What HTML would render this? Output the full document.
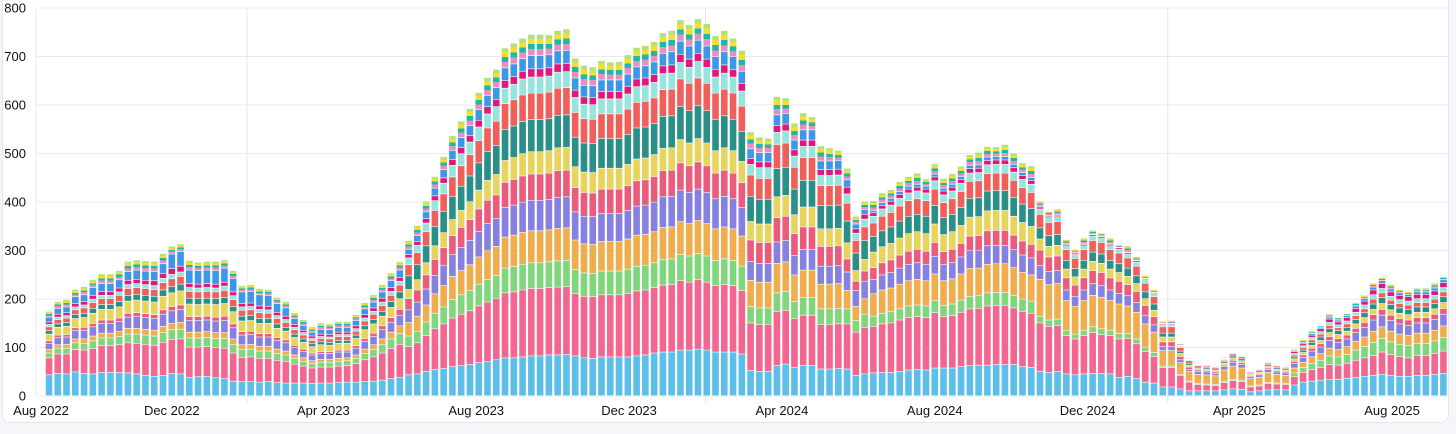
<!DOCTYPE html>
<html><head><meta charset="utf-8">
<style>
html,body{margin:0;padding:0;background:#f4f6fa;}
body{width:1456px;height:434px;overflow:hidden;font-family:"Liberation Sans",Arial,sans-serif;}
#card{position:absolute;left:2px;top:-6px;width:1447px;height:429px;background:#fff;border:1px solid #e4e8ee;border-radius:8px;box-sizing:border-box;}
svg{position:absolute;left:0;top:0;}
</style></head>
<body>
<div id="card"></div>
<svg id="chart" width="1456" height="434">
<defs>
<linearGradient id="topGrad" x1="0" y1="1" x2="0" y2="0">
<stop offset="0" stop-color="#e88fbf"/><stop offset="0.3" stop-color="#e88fbf"/>
<stop offset="0.3" stop-color="#1db9a5"/><stop offset="0.55" stop-color="#1db9a5"/>
<stop offset="0.55" stop-color="#f3df2e"/><stop offset="0.8" stop-color="#f3df2e"/>
<stop offset="0.8" stop-color="#b4e07c"/><stop offset="1" stop-color="#b4e07c"/>
</linearGradient>
</defs>
<g id="grid"></g>
<g id="bars"></g>
<g id="yaxis"></g>
<g id="xaxis"></g>
</svg>
<script>
const yTicks = [0,100,200,300,400,500,600,700,800];
const xTickLabels = ["Aug 2022","Dec 2022","Apr 2023","Aug 2023","Dec 2023","Apr 2024","Aug 2024","Dec 2024","Apr 2025","Aug 2025"];
const xTickDates = ["2022-08-01","2022-12-01","2023-04-01","2023-08-01","2023-12-01","2024-04-01","2024-08-01","2024-12-01","2025-04-01","2025-08-01"];
const yearLines = ["2023-01-30","2024-01-31","2025-02-03"];
const startDate = "2022-08-25";
const seriesNames = ["s1","s2","s3","s4","s5","s6","s7","s8","s9","s10","s11","s12","other"];
const seriesColors = ["#5bbfe9","#f2668f","#7fd67b","#f0ad4e","#8681e0","#ea5b7c","#e6d45c","#2a8f86","#f05f5a","#95e4dd","#e3177b","#3d97e8","url(#topGrad)"];
const s1 = [43,46,45,49,46,45,48,48,48,47,45,42,40,42,46,45,38,39,40,37,35,30,29,29,28,29,27,26,26,26,25,26,26,27,28,28,29,30,32,35,38,43,45,50,54,56,60,62,64,68,70,74,78,78,80,82,82,84,84,85,82,78,77,80,80,80,80,82,84,88,90,90,94,94,96,94,90,90,90,86,52,50,50,62,65,58,62,62,55,55,56,55,42,45,47,48,48,50,53,54,53,57,57,57,60,62,63,63,64,64,64,60,58,50,48,50,45,43,45,46,46,45,38,40,35,28,26,18,18,14,10,10,10,10,12,14,13,8,10,12,12,12,22,28,30,32,33,34,36,38,40,42,44,42,40,40,42,42,44,46];
const s2 = [35,40,41,46,48,52,55,55,57,62,63,64,64,68,70,72,62,61,61,62,63,58,50,51,49,48,46,45,39,35,32,33,33,34,34,38,45,50,56,62,68,58,64,74,84,92,100,106,111,117,123,126,134,136,138,139,139,139,140,140,129,127,127,128,128,128,131,134,134,135,138,139,143,140,143,140,137,139,137,131,98,97,97,111,111,101,104,104,92,92,92,93,89,96,96,100,102,106,108,109,108,114,106,108,112,117,117,122,122,122,117,114,112,100,95,95,79,74,79,84,80,79,79,78,72,63,55,40,40,28,18,13,12,11,15,17,16,10,10,13,12,11,17,20,24,26,31,29,31,35,38,41,46,43,41,38,41,41,43,46];
const s3 = [10,12,12,14,14,16,16,16,17,18,19,19,19,20,20,20,19,19,19,19,20,18,16,16,15,15,14,13,12,10,9,10,10,10,10,11,13,15,17,20,22,22,24,28,32,35,38,40,42,45,47,48,51,52,53,53,53,53,54,54,49,48,48,49,49,49,50,51,51,51,53,53,54,54,54,54,52,53,52,50,34,34,34,39,39,35,36,36,32,32,32,31,24,27,21,22,23,23,24,24,24,25,23,24,25,26,26,27,27,27,26,25,25,14,13,13,11,10,11,12,12,11,11,10,10,9,8,3,3,2,2,2,2,2,3,3,3,2,2,2,2,2,8,10,13,15,18,17,18,21,23,27,28,26,25,25,25,25,26,28];
const s4 = [7,7,8,8,9,10,10,10,10,12,12,12,12,13,13,14,12,12,12,12,12,11,10,10,10,10,9,8,7,7,6,6,6,6,6,7,9,10,12,14,16,28,31,35,40,44,48,50,53,56,59,60,64,65,66,66,66,66,67,67,61,60,60,61,61,61,62,64,64,64,66,66,68,67,68,67,65,66,65,62,54,53,53,61,61,55,57,57,51,51,51,38,29,32,46,48,49,51,52,53,52,55,51,52,54,57,57,59,59,59,57,55,54,76,73,73,61,57,61,65,65,61,61,57,55,48,42,32,32,24,20,19,19,18,23,27,25,15,16,21,18,17,10,11,13,14,16,15,16,18,20,23,24,22,21,21,21,21,22,24];
const s5 = [13,15,15,17,18,19,20,20,21,23,24,24,24,25,26,27,24,24,24,24,25,23,20,20,19,19,18,17,15,13,12,12,12,13,12,14,16,17,19,20,22,26,29,33,38,42,45,48,50,53,56,57,61,62,62,63,63,63,64,64,58,57,57,58,58,58,59,60,60,61,63,63,65,64,65,64,62,63,62,59,39,39,39,44,44,40,42,42,37,37,37,38,33,36,30,31,32,33,34,34,34,36,33,34,35,37,37,38,38,38,37,36,35,28,27,27,22,21,22,24,24,22,22,21,20,18,15,8,8,6,4,6,6,5,7,8,7,4,5,6,5,5,9,10,12,13,16,15,16,18,20,23,24,22,21,21,21,21,22,24];
const s6 = [5,5,5,6,6,7,7,7,7,8,8,8,8,9,9,9,8,8,8,8,9,8,7,7,7,7,6,6,5,5,4,4,4,4,4,5,6,7,8,10,12,23,25,29,33,36,39,41,43,46,48,49,52,53,54,54,54,54,55,55,50,49,49,50,50,50,51,52,52,53,54,54,56,55,56,55,53,54,53,51,44,43,43,50,50,45,47,47,41,41,41,27,19,21,24,25,26,27,27,28,27,29,27,27,28,30,30,31,31,31,30,29,28,32,30,30,25,23,25,27,27,25,25,23,23,20,17,10,10,7,5,3,3,3,3,4,4,2,2,3,3,3,5,5,6,7,8,8,8,9,10,11,12,11,11,11,11,11,11,12];
const s7 = [14,16,17,19,20,21,22,22,23,25,26,26,26,28,28,29,26,25,25,26,26,25,22,22,21,21,19,18,16,14,13,14,13,14,14,15,18,19,20,21,22,19,21,25,28,31,33,35,37,39,41,42,45,45,46,46,46,46,47,47,43,42,42,43,43,43,44,45,45,45,46,46,48,47,48,47,46,46,46,44,38,38,38,43,43,39,41,41,36,36,36,33,22,24,32,33,34,35,36,36,36,38,35,36,37,39,39,41,41,41,39,38,37,23,22,22,18,17,18,19,19,18,18,17,16,14,13,10,10,6,4,3,3,3,4,5,4,3,3,4,3,3,5,5,6,7,8,8,8,9,10,11,12,11,11,11,11,11,11,12];
const s8 = [7,7,8,8,9,10,10,10,11,12,12,12,12,13,13,14,12,12,12,12,12,11,10,10,10,10,9,8,7,7,6,6,6,6,6,7,8,9,10,12,14,28,31,35,40,44,48,50,53,56,59,60,64,65,66,66,66,66,67,67,61,60,60,61,61,61,62,64,64,64,66,66,68,67,68,67,65,66,65,62,52,51,51,58,58,53,55,55,48,48,48,45,36,39,32,33,34,35,36,36,36,38,35,36,37,39,39,41,41,41,39,38,37,23,22,22,18,17,18,19,19,18,18,17,16,14,13,8,8,5,4,3,3,3,3,4,4,2,3,3,3,3,4,5,6,7,8,8,8,9,10,11,12,11,11,11,11,11,11,12];
const s9 = [8,9,9,10,11,12,12,12,13,14,14,14,14,15,16,16,14,14,14,14,15,14,12,12,12,11,11,10,9,8,7,7,7,8,8,8,10,11,12,13,14,23,25,29,33,36,40,42,44,46,49,50,53,54,55,55,55,55,56,56,51,50,50,51,51,51,52,53,53,53,55,55,57,56,57,56,54,55,54,52,44,43,43,50,50,45,47,47,41,41,41,37,26,28,28,30,30,31,32,32,32,34,31,32,33,35,35,36,36,36,35,34,33,28,27,27,22,21,22,24,24,22,22,21,20,18,15,13,13,7,5,3,3,3,3,4,4,2,2,3,3,2,4,5,5,6,7,6,7,8,8,10,10,9,9,9,9,9,9,10];
const s10 = [5,5,5,6,6,7,7,7,7,8,8,8,8,9,9,9,8,8,8,8,9,8,7,7,7,7,6,6,5,5,4,4,4,4,4,5,6,6,7,8,8,14,15,18,20,22,24,25,26,28,29,30,32,32,33,33,33,33,33,33,31,30,30,31,31,31,31,32,32,32,33,33,34,33,34,33,33,33,33,31,22,22,22,25,25,23,23,23,21,21,21,19,15,16,14,15,15,16,16,16,16,17,16,16,17,17,17,18,18,18,17,17,17,11,10,10,8,8,8,9,9,8,8,8,8,7,6,4,4,3,2,2,2,2,2,2,2,2,2,2,2,2,3,4,5,5,6,6,6,7,8,9,9,8,8,8,8,8,8,9];
const s11 = [5,6,6,7,7,8,8,8,8,9,9,9,10,10,12,12,8,8,8,8,8,8,7,7,7,7,7,7,6,5,5,5,5,5,5,6,7,7,8,8,8,7,8,9,10,11,12,13,13,14,15,15,16,16,16,17,17,17,17,17,15,15,15,15,15,15,16,16,16,16,16,17,17,17,17,17,16,17,16,16,12,12,12,14,14,13,13,13,12,12,12,14,9,10,7,7,8,8,8,8,8,8,8,8,8,9,9,9,9,9,9,8,8,4,3,3,3,3,3,3,3,3,3,3,3,2,2,2,2,1,1,1,1,1,1,1,1,1,1,1,1,1,4,4,5,6,7,6,7,8,8,10,10,9,9,9,9,9,9,10];
const s12 = [10,12,12,14,14,16,16,16,17,18,19,19,19,20,30,30,28,28,28,28,29,28,24,24,23,23,18,17,12,10,8,10,10,10,10,11,12,12,13,14,15,11,12,14,16,17,19,20,21,22,23,24,26,26,26,27,27,27,27,27,25,24,24,24,24,24,25,25,25,26,26,27,27,27,27,27,26,27,26,25,20,19,19,22,22,20,21,21,18,18,18,15,10,10,5,6,6,6,6,6,6,6,6,6,6,7,7,7,7,7,7,6,6,2,2,2,1,1,1,1,1,1,1,1,1,1,1,1,1,1,1,1,0,0,1,1,1,0,0,1,0,0,2,3,3,3,4,4,4,5,5,6,6,6,5,5,5,5,6,6];
const other = [12,14,15,15,17,16,20,20,19,21,21,21,21,21,16,16,20,17,18,19,17,16,13,14,13,12,13,13,12,12,11,13,12,12,12,12,13,15,15,16,17,18,21,22,24,27,30,34,35,35,37,38,41,43,42,44,44,41,42,44,41,41,39,40,37,38,40,40,42,42,42,44,44,44,44,46,43,44,38,43,35,32,30,38,32,35,35,27,31,27,21,24,16,17,20,20,18,20,20,23,15,21,20,22,21,22,26,22,20,25,23,20,24,10,8,11,9,7,12,8,6,12,5,13,8,6,6,4,6,3,2,1,1,1,2,1,1,1,1,1,1,1,3,5,5,3,6,5,4,7,7,8,6,9,7,6,8,8,10,6];
const series = [s1,s2,s3,s4,s5,s6,s7,s8,s9,s10,s11,s12,other];

const NS = "http://www.w3.org/2000/svg";
const X0 = 49, STEP = 8.77, BARW = 6.6;
const Y0 = 396, YMAX = 800, PLOT_TOP = 8;
const DAY = 86400000;
const t0 = Date.parse(startDate);
function xIndex(i){ return X0 + STEP * i; }
function xDate(s){ return X0 + STEP * (Date.parse(s) - t0) / (7 * DAY); }
function yScale(v){ return Y0 - v * (Y0 - PLOT_TOP) / YMAX; }
function mk(tag, attrs, parent){ const e = document.createElementNS(NS, tag); for (const k in attrs) e.setAttribute(k, attrs[k]); parent.appendChild(e); return e; }

const grid = document.getElementById('grid');
yTicks.forEach(v => {
  const l = mk('line', {x1: 36, x2: 1449, y1: yScale(v), y2: yScale(v), stroke: '#e8ebf0', 'stroke-width': 1}, grid);
  
  
});
const vl = mk('line', {x1: 36, x2: 36, y1: PLOT_TOP, y2: Y0, stroke: '#e8ebf0', 'stroke-width': 1}, grid);


yearLines.forEach(d => {
  const x = xDate(d);
  const l = mk('line', {x1: x, x2: x, y1: PLOT_TOP, y2: 404, stroke: '#e3e7ee', 'stroke-width': 1}, grid);
  
  
});

const barsG = document.getElementById('bars');
const n = s1.length;
for (let i = 0; i < n; i++) {
  let acc = 0;
  const g = mk('g', {}, barsG);
  
  
  for (let s = 0; s < series.length; s++) {
    const v = series[s][i] || 0;
    if (v <= 0) continue;
    const yTop = yScale(acc + v), yBot = yScale(acc);
    const r = mk('rect', {x: xIndex(i) - BARW / 2, y: yTop, width: BARW, height: Math.max(0, yBot - yTop - 0.6), fill: seriesColors[s]}, g);
    
    
    acc += v;
  }
}

const yax = document.getElementById('yaxis');
yTicks.forEach(v => {
  const t = mk('text', {x: 26, y: yScale(v) + 4.5, 'text-anchor': 'end', 'font-size': 13, fill: '#111', 'font-family': 'Liberation Sans, Arial, sans-serif'}, yax);
  t.textContent = String(v);
  
  
});

const xax = document.getElementById('xaxis');
xTickLabels.forEach((lab, k) => {
  let x = xDate(xTickDates[k]);
  x = Math.max(41, Math.min(x, 1420));
  const t = mk('text', {x: x, y: 415, 'text-anchor': 'middle', 'font-size': 13, fill: '#111', 'font-family': 'Liberation Sans, Arial, sans-serif'}, xax);
  t.textContent = lab;
  
  
});
</script>
</body></html>
